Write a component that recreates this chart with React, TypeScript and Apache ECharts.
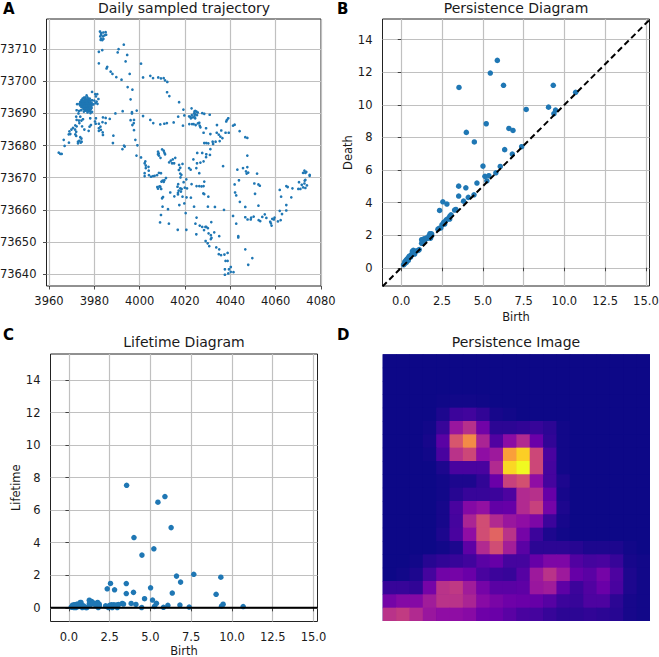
import React, { useEffect, useRef } from "react";
import * as echarts from "echarts";

const FONT = "DejaVu Sans";
const BLUE = "#1f77b4";

const trajectory: number[][] = [
  [3982.5,73715.5],[3983,73715],[3984,73715.2],[3985,73715.3],[3985.2,73714.5],[3983,73714.5],[3983.8,73714],[3984.5,73714.3],[3982.6,73714],[3983,73713.3],[3983.5,73712.8],[3984,73713.2],[3982.8,73712.9],
  [3982,73709.2],[3983.5,73709.7],[3982,73705.6],[3990.3,73709],[3990.7,73710],[3993,73711.4],[3994.5,73708.2],[3993.8,73706.2],[3995.6,73702.3],[4000.6,73705.5],[4001.5,73701.2],
  [3985.7,73704.5],[3985.4,73704],[3987.2,73703],[3988,73702.3],[3989.7,73701.3],[3992,73700.5],[3994.7,73698.2],[3996.8,73697.4],[3996,73694.4],
  [4004.7,73701.7],[4005.9,73701],[4008.2,73701.2],[4009.4,73700.9],[4010.6,73701],[4011.2,73700.3],[4012.2,73699.8],[4012.1,73696.6],[4013.1,73695.4],[4017.4,73693.5],[4019.3,73691.2],
  // dense cluster
  [3979,73696.7],[3980.4,73696],[3981.3,73696],[3980.7,73695.3],[3981.8,73694.5],[3981,73693.7],[3980.5,73693.2],[3981.4,73693],[3980,73694],[3979.6,73692.8],
  [3976.6,73695.6],[3976,73695],[3977,73695],[3975.4,73694.9],[3974.8,73694.6],[3975.8,73694.5],[3976.6,73694.4],[3977.4,73694.5],[3978,73694.6],[3974.3,73694.1],[3975,73694],[3975.6,73694],[3976.2,73693.9],[3976.9,73693.9],[3977.5,73694],[3978.2,73693.9],[3979,73694.1],
  [3973.8,73693.6],[3974.5,73693.5],[3975.1,73693.5],[3975.7,73693.4],[3976.3,73693.4],[3976.9,73693.4],[3977.5,73693.4],[3978.1,73693.4],[3978.8,73693.3],[3973.4,73693],[3974.1,73693],[3974.7,73693],[3975.3,73692.9],[3975.9,73692.9],[3976.5,73692.9],[3977.1,73692.9],[3977.7,73692.9],[3978.3,73692.8],[3979,73692.8],
  [3973.7,73692.5],[3974.4,73692.5],[3975,73692.4],[3975.6,73692.4],[3976.2,73692.4],[3976.8,73692.4],[3977.4,73692.4],[3978,73692.3],[3978.7,73692.3],[3972.4,73692.9],[3974.3,73692],[3975,73691.9],[3975.7,73691.9],[3976.3,73691.9],[3976.9,73691.9],[3977.5,73691.9],[3978.1,73691.8],[3978.8,73691.7],
  [3975.2,73691.4],[3975.9,73691.4],[3976.5,73691.4],[3977.1,73691.4],[3977.7,73691.3],[3978.4,73691.2],[3976,73690.9],[3976.7,73690.9],[3977.4,73690.8],[3978,73690.7],[3979,73690.5],[3974.2,73691],[3973.3,73690.8],[3972.2,73691],[3977,73690.3],[3978.3,73690.1],[3975.4,73690.6],[3973,73690],
  // lower left of the cluster
  [3972,73689],[3973.8,73689],[3972.2,73688],[3973.2,73687.8],[3974.3,73687.8],[3975,73688.2],[3973.4,73687],[3971.6,73686.3],[3970.6,73685.5],[3969.9,73685],[3971.5,73685],[3972.2,73686],[3974.6,73686],[3969,73684.4],[3968.7,73683.5],[3969.4,73683.6],[3972,73684.3],[3971.6,73683.5],[3972,73683],[3975.6,73685],[3977.9,73685.9],[3978.5,73686.4],[3977.5,73684.6],[3973.8,73682.6],[3973.4,73681.5],[3972.8,73681.2],[3972.8,73680.7],[3974.3,73682.2],[3974.4,73681.2],[3974,73680.9],
  [3966.5,73681.8],[3968.8,73680.9],[3966.9,73679.9],[3964.3,73677.8],[3965,73677.4],[3965.6,73677.4],
  [3978.2,73688.5],[3980.7,73688.5],[3980.3,73687.5],[3980.6,73686.8],[3982,73686.8],[3982.7,73685.9],[3982,73685.4],[3982.9,73684.9],[3982,73684.6],[3983.7,73684.1],[3983.8,73683.3],[3983.8,73688.8],[3985,73688.6],[3986.8,73688.3],[3983.6,73687.3],[3985,73687],
  [3989.3,73690],[3992.5,73690.7],[3988.4,73683.1],[3988.2,73680.8],[3993.1,73680],[3993.4,73679.7],[3992.4,73678.9],[3996.6,73690.4],[3998.7,73690.9],[3996.6,73690],[3996,73687.9],[3997.5,73688],[3997.4,73687],[3996.8,73686.4],[3997.5,73684.8],[3998.1,73681.8],[3999,73680.1],[3998.6,73676.9],[4000.6,73676.3],
  [4001.5,73689.2],[4004.7,73688],[4006,73687],[4009.1,73686.6],[4010.9,73686.8],[4012,73687],[4015,73687.2],[4017,73689],[4019.7,73689.4],
  [4022.9,73691.6],[4024.5,73690.8],[4024.2,73690.6],[4025,73690.6],[4025.6,73690.3],[4024,73690],[4024.5,73689.8],[4025.3,73689.5],[4024.2,73689.2],[4023.5,73688.8],[4022.4,73688.9],[4022.6,73688.5],[4021.8,73689.1],[4024.5,73688.5],[4023,73689.5],
  [4027.6,73690.1],[4028.5,73689.9],[4030.9,73689.6],[4021.9,73686.7],[4023.1,73686.7],[4023.8,73686.7],[4025.7,73686.9],[4026.5,73686.2],[4024.7,73686.4],[4026.3,73687.1],[4019.1,73686.2],[4026.8,73685.7],[4029.3,73685.4],[4028.2,73684],[4031.2,73683.6],[4034.1,73686.4],
  [4036,73684.7],[4034,73684],[4034.9,73683.4],[4035.6,73682.8],[4036.5,73682.3],[4035.3,73681.4],[4033.5,73681.2],[4032.2,73681.2],[4032.4,73680.5],[4028.5,73680.8],[4029.4,73680.8],[4030.3,73680.7],[4031.2,73678.9],[4037.9,73684],[4039.3,73684],[4038.2,73687.5],[4039.1,73688.5],[4038.5,73688],[4041.2,73686.2],[4041.9,73686.5],[4044.1,73684.5],[4046.6,73682.6],[4047.5,73682.4],
  // middle
  [4008.1,73678.1],[4008.4,73677.6],[4008.1,73677.3],[4009.9,73678.8],[4010.6,73678.4],[4010.9,73677.8],[4011.2,73677.3],[4008.5,73676.9],[4009.2,73676.2],
  [4002.5,73675.1],[4002.2,73674.5],[4002.7,73673.8],[4003.9,73673.4],[4002.7,73673],[4004,73672.2],[4002.2,73671.4],[4002.2,73670.5],[4004.1,73670.8],[4005,73670.3],[4005.9,73670.5],[4006.6,73670.6],[4007.7,73670.8],[4008.5,73671.5],[4009.4,73671.4],
  [4010.1,73669.1],[4009.6,73668.8],[4010.9,73669.2],[4011.6,73669.9],[4010.6,73668.7],[4007.8,73667.1],[4008.7,73667.3],[4008.1,73666.6],[4009.1,73667.2],[4009.5,73666.5],
  [4009.9,73663.6],[4010.3,73664],[4010.1,73661],[4012.5,73660.2],[4009.4,73658.4],[4009,73656.1],[4012.9,73655.7],[4016.8,73653.8],[4020.6,73653.8],
  [4013,73674.8],[4013.7,73675.3],[4014.6,73675.7],[4015.7,73676.2],[4014.3,73674.5],[4015.2,73674.5],[4017.4,73674],[4018.9,73674.3],[4017.9,73673.1],[4017.3,73672.4],[4017.9,73671.3],[4018.4,73670.9],[4018,73670.1],[4021.8,73673],[4022.5,73672.5],[4023.7,73675.7],[4025.4,73677.7],[4027.6,73677.7],[4029.4,73677.3],[4031,73677.1],[4029.3,73676.4],[4028.2,73675.1],[4026.8,73674.7],[4025.3,73674.5],[4025,73673],[4026.3,73671.4],[4036.8,73673.6],
  [4017,73668],[4016.7,73667.2],[4020.6,73669.5],[4019.4,73668.6],[4020.9,73666.7],[4019.9,73666.9],[4018.5,73666.5],[4017.2,73666],[4016.9,73665.3],[4017.9,73666.7],[4018.2,73665.7],[4013.5,73665.4],[4015.3,73664.2],[4016.9,73664.8],[4018.9,73664.1],[4017.5,73661.5],[4019.7,73662],[4020.3,73659],[4020.7,73663.9],[4022.6,73663.8],[4024,73661],[4022.9,73668],[4025.1,73667.4],[4026.3,73667.4],[4027.3,73667.3],[4028.5,73668.8],[4028.2,73667.4],[4028.1,73665.1],[4028.5,73664.9],[4030.3,73664.1],[4030.1,73661],[4033.2,73660.9],[4037.2,73660],
  [4024.6,73655.7],[4025.1,73657.6],[4026.5,73655.1],[4027.6,73654.7],[4029,73654.7],[4029.4,73654.7],[4025,73652.4],[4028.4,73653.7],[4031.6,73656.2],[4030.1,73654.3],[4030.4,73652.7],[4031.4,73652.1],[4031.7,73651.3],[4029.1,73650.3],[4030,73649.6],[4030.7,73648.7],[4032.9,73653],[4035.1,73651.8],[4031.4,73650.9],[4033.8,73648.3],[4035.1,73647.7],[4035.9,73645.9],[4034.9,73646.2],[4037.4,73646.1],[4038.8,73646.6],[4037.9,73644.1],[4038.8,73644.1],[4037.6,73641.5],[4037.6,73639.8],[4039.1,73640.2],[4039.4,73641.5],[4040.2,73642.2],[4040.2,73640.7],[4041.4,73640.6],
  [4041.2,73658.1],[4042.6,73655.7],[4043.5,73651.8],[4043.5,73651.4],[4046.6,73647.7],[4049.7,73645],[4047.9,73642.9],
  [4041.9,73667.9],[4043.8,73669.2],[4043.1,73672.5],[4045.6,73673],[4047.5,73673.3],[4047.5,73676.9],[4046.9,73672],[4047.2,73671.3],[4047.9,73671.6],[4042.1,73665.4],[4042.6,73664.5],[4044.2,73662.5],[4046.6,73660.9],[4046.6,73657.7],[4047.6,73657],[4049,73657],[4049.2,73657.6],[4050.3,73657.9],[4050.6,73668.2],[4051.8,73671.3],[4050.9,73665],[4052.4,73667.9],[4053,73667.5],[4052.4,73661.3],
  [4052.5,73656.8],[4053.2,73656.5],[4054.1,73657.8],[4055.2,73658.6],[4055.9,73657.5],[4057.6,73656.3],[4057.9,73655.8],[4058.2,73655.1],[4058.5,73657.2],[4059.5,73657.6],[4059.2,73657],[4061,73656.4],[4062.2,73656.8],[4061.8,73659.7],[4062.8,73658.7],[4064.7,73659.8],[4064.7,73661.5],[4061.8,73666.2],[4062.4,73664.1],[4064.7,73667.4],[4065.3,73667.1],[4067.4,73666.7],[4066.9,73663.9],
  [4070.3,73668.6],[4070,73666.5],[4070.9,73666.5],[4071.5,73667.8],[4072.1,73667],[4072.7,73668.2],[4072.8,73669.1],[4073.1,73669.3],[4073.8,73667.6],[4073.1,73666.8],[4072.7,73672.2],[4073.1,73671.5],[4072.1,73671.5],[4073.5,73671.8],[4075,73670.9],[4075,73670.6],
];

const persistencePairs: number[][] = [
  [3.54,11.07],[5.89,12.73],[5.46,11.95],[6.27,11.2],[9.32,11.2],[10.69,10.77],[7.66,9.72],[9.03,9.86],[9.46,9.68],[9.36,9.46],
  [5.21,8.84],[3.99,8.31],[6.6,8.55],[6.85,8.43],[4.48,7.72],[6.34,7.25],[6.81,6.98],[7.38,7.43],[5.01,6.24],[6.07,6.22],
  [5.13,5.61],[5.37,5.65],[5.25,5.34],[5.8,5.83],[4.64,5.2],[3.52,5.01],[3.96,4.91],[3.52,4.4],[3.82,4.09],[4.11,4.32],[4.46,4.48],
  [2.55,4.05],[2.8,3.91],[2.35,3.52],[3.27,3.54],[3.35,3.58],
  [2.97,3.15],[2.97,2.99],[2.76,2.94],[2.66,2.82],[2.66,2.68],[2.43,2.45],[2.25,2.37],[2.35,2.43],[3.05,3.25],[2.85,3.0],[2.5,2.65],[2.6,2.78],
  [1.76,1.84],[1.76,2.09],[1.86,2.08],[1.86,1.98],[1.53,1.82],[1.39,1.78],[1.25,1.72],[1.25,1.5],[1.04,1.06],[0.82,0.84],[0.74,1.07],[0.74,0.88],
  [0.47,0.67],[0.31,0.49],[0.14,0.18],[0.22,0.38],[0.43,0.45],[0.57,0.65],[0.31,0.33],[1.33,1.53],[1.7,1.95],[0.2,0.24],[0.25,0.33],[0.38,0.56],
  [0.5,0.72],[0.62,0.8],[0.68,1.0],[0.9,1.02],[1.1,1.12],[1.3,1.62],[1.45,1.72],[1.6,1.8],[1.8,1.82],
];

const diagonalLine: number[][] = [[-1.15,-1.15],[15.22,15.22]];
const zeroLine: number[][] = [[-1.13,0],[15.25,0]];

const persistenceImage: number[][] = [
  [0,0,0,0,0,0,0,0,0,0,0,0,0,0,0,0,0,0,0,0],
  [0,0,0,0,0,0,0,0,0,0,0,0,0,0,0,0,0,0,0,0],
  [0,0,0,0,0,0,0,0,0,0,0,0,0,0,0,0,0,0,0,0],
  [0,0,0,0,0.005,0.01,0.01,0.005,0,0,0,0,0,0,0,0,0,0,0,0],
  [0,0,0,0,0.03,0.09,0.1,0.07,0.02,0.01,0,0,0,0,0,0,0,0,0,0],
  [0,0,0,0.01,0.08,0.33,0.42,0.22,0.06,0.06,0.07,0.08,0.06,0.01,0,0,0,0,0,0],
  [0,0,0,0.02,0.16,0.55,0.72,0.38,0.14,0.29,0.4,0.2,0.07,0.01,0,0,0,0,0,0],
  [0,0,0,0.01,0.12,0.43,0.5,0.3,0.34,0.78,0.9,0.5,0.12,0.01,0,0,0,0,0,0],
  [0,0,0,0,0.03,0.12,0.12,0.12,0.4,0.92,1,0.5,0.11,0.01,0,0,0,0,0,0],
  [0,0,0,0,0.01,0.03,0.03,0.07,0.2,0.48,0.53,0.3,0.11,0.03,0,0,0,0,0,0],
  [0,0,0,0,0.01,0.05,0.08,0.08,0.09,0.13,0.4,0.42,0.19,0.02,0,0,0,0,0,0],
  [0,0,0,0,0.02,0.12,0.27,0.31,0.18,0.19,0.4,0.48,0.23,0.03,0,0,0,0,0,0],
  [0,0,0,0,0.02,0.11,0.38,0.52,0.4,0.33,0.3,0.25,0.09,0.02,0,0,0,0,0,0],
  [0,0,0,0,0.03,0.12,0.3,0.52,0.6,0.43,0.23,0.09,0.03,0.01,0,0,0,0,0,0],
  [0,0,0,0,0.01,0.03,0.17,0.4,0.52,0.36,0.16,0.06,0.06,0.06,0.05,0.03,0.03,0.03,0.01,0],
  [0,0,0.01,0.05,0.07,0.08,0.1,0.16,0.19,0.11,0.11,0.19,0.25,0.25,0.14,0.11,0.12,0.08,0.02,0.01],
  [0,0.01,0.03,0.11,0.22,0.23,0.2,0.12,0.09,0.08,0.15,0.34,0.43,0.34,0.19,0.16,0.23,0.13,0.03,0.01],
  [0.08,0.08,0.07,0.23,0.43,0.45,0.35,0.23,0.16,0.16,0.17,0.33,0.35,0.17,0.09,0.14,0.2,0.12,0.03,0.01],
  [0.23,0.27,0.27,0.35,0.43,0.43,0.38,0.28,0.24,0.21,0.2,0.19,0.15,0.09,0.08,0.13,0.13,0.06,0.02,0.01],
  [0.43,0.46,0.4,0.33,0.3,0.3,0.28,0.21,0.2,0.16,0.12,0.11,0.08,0.06,0.06,0.07,0.06,0.05,0.02,0.01],
];

const plasma = ["#0d0887","#41049d","#6a00a8","#8f0da4","#b12a90","#cc4778","#e16462","#f1844b","#fca636","#fcce25","#f0f921"];

const trajectoryXTicks = [3960,3980,4000,4020,4040,4060,4080];
const trajectoryYTicks = [73640,73650,73660,73670,73680,73690,73700,73710];
const birthTicks = [0,2.5,5,7.5,10,12.5,15];
const deathTicks = [0,2,4,6,8,10,12,14];
const imageAxis = Array.from({ length: 20 }, (_, i) => String(i));

const titles = [
  { text: "Daily sampled trajectory", x: 184, y: 8 },
  { text: "Persistence Diagram", x: 516, y: 8 },
  { text: "Lifetime Diagram", x: 184, y: 342 },
  { text: "Persistence Image", x: 516, y: 342 },
];
const panelLetters = [
  { text: "A", x: 3, y: 9 },
  { text: "B", x: 337, y: 9 },
  { text: "C", x: 3, y: 335 },
  { text: "D", x: 337, y: 335 },
];

function axis(min: number, max: number, ticks: number[], fmt: (v: number) => string, name = "", nameGap = 0, margin = 9) {
  return {
    type: "value", min, max, name, nameLocation: "middle", nameGap,
    nameTextStyle: { fontFamily: FONT, fontSize: 11.5, color: "#1a1a1a" },
    axisLine: { show: false },
    axisTick: { show: true, length: 3.5, customValues: ticks, lineStyle: { color: "#222", width: 0.8 } },
    axisLabel: { customValues: ticks, formatter: fmt, margin, fontFamily: FONT, fontSize: 11.5, color: "#1a1a1a", hideOverlap: false },
    splitLine: { show: true, lineStyle: { color: "#c0c0c0", width: 1.2 } },
  };
}

const one = (v: number) => v.toFixed(1);
const int = (v: number) => String(Math.round(v));

function renderCell(params: any, api: any) {
  const p = api.coord([api.value(0), api.value(1)]);
  const s = api.size([1, 1]);
  const left = p[0] - s[0] / 2;
  const top = p[1] - s[1] / 2;
  const overlapX = api.value(0) < 19 ? 0.6 : 0;
  const overlapY = api.value(1) > 0 ? 0.6 : 0;
  return {
    type: "rect",
    shape: { x: left, y: top, width: s[0] + overlapX, height: s[1] + overlapY },
    style: { fill: api.visual("color"), stroke: "none" },
  };
}

export default function App() {
  const ref = useRef<HTMLDivElement>(null);
  useEffect(() => {
    const chart = echarts.init(ref.current!, undefined, { renderer: "svg" });
    const gridBase = { show: true, borderColor: "#222", borderWidth: 1, backgroundColor: "#fff", outerBoundsMode: "none" };
    chart.setOption({
      animation: false,
      backgroundColor: "#fff",
      grid: [
        { ...gridBase, left: 46.5, top: 19, width: 274.5, height: 267 },
        { ...gridBase, left: 382.5, top: 19, width: 267, height: 267 },
        { ...gridBase, left: 50.5, top: 354, width: 267, height: 267.5 },
        { left: 382.7, top: 354.3, width: 267.3, height: 266.7, show: true, borderWidth: 0, backgroundColor: plasma[0], outerBoundsMode: "none" },
      ],
      xAxis: [
        { ...axis(3958.9, 4080, trajectoryXTicks, int), gridIndex: 0 },
        { ...axis(-1.15, 15.22, birthTicks, one, "Birth", 25), gridIndex: 1 },
        { ...axis(-1.13, 15.25, birthTicks, one, "Birth", 23), gridIndex: 2 },
        { type: "category", data: imageAxis, show: false, gridIndex: 3 },
      ],
      yAxis: [
        { ...axis(73636.3, 73719.4, trajectoryYTicks, int, "", 0, 10), gridIndex: 0 },
        { ...axis(-1.12, 15.27, deathTicks, int, "Death", 28, 10), gridIndex: 1 },
        { ...axis(-0.84, 15.6, deathTicks, int, "Lifetime", 28, 10), gridIndex: 2 },
        { type: "category", data: imageAxis, show: false, gridIndex: 3 },
      ],
      visualMap: { show: false, type: "continuous", min: 0, max: 1, seriesIndex: 5, dimension: 2, inRange: { color: plasma } },
      series: [
        { type: "scatter", xAxisIndex: 0, yAxisIndex: 0, data: trajectory, symbolSize: 2.7, itemStyle: { color: BLUE, opacity: 1 } },
        { type: "scatter", xAxisIndex: 1, yAxisIndex: 1, data: persistencePairs, symbolSize: 5.5, itemStyle: { color: BLUE, opacity: 1 } },
        { type: "line", xAxisIndex: 1, yAxisIndex: 1, data: diagonalLine, showSymbol: false, z: 5, lineStyle: { color: "#000", width: 2, type: [6, 3.5] } },
        { type: "scatter", xAxisIndex: 2, yAxisIndex: 2, data: persistencePairs.map(([b, d]) => [b, +(d - b).toFixed(2)]), symbolSize: 5.5, itemStyle: { color: BLUE, opacity: 1 } },
        { type: "line", xAxisIndex: 2, yAxisIndex: 2, data: zeroLine, showSymbol: false, z: 5, lineStyle: { color: "#000", width: 2 } },
        {
          type: "custom", xAxisIndex: 3, yAxisIndex: 3, renderItem: renderCell,
          encode: { x: 0, y: 1 },
          data: persistenceImage.flatMap((row, r) => row.map((v, c) => [c, 19 - r, v])),
        },
      ],
      graphic: [
        ...titles.map((t) => ({ type: "text", x: t.x, y: t.y, style: { text: t.text, fontFamily: FONT, fontSize: 14, fill: "#1a1a1a", align: "center", verticalAlign: "middle" } })),
        ...panelLetters.map((t) => ({ type: "text", x: t.x, y: t.y, style: { text: t.text, fontFamily: FONT, fontSize: 15, fontWeight: "bold", fill: "#000", align: "left", verticalAlign: "middle" } })),
      ],
    });
    return () => chart.dispose();
  }, []);
  return <div ref={ref} style={{ position: "fixed", left: 0, top: 0, width: 659, height: 657 }} />;
}
